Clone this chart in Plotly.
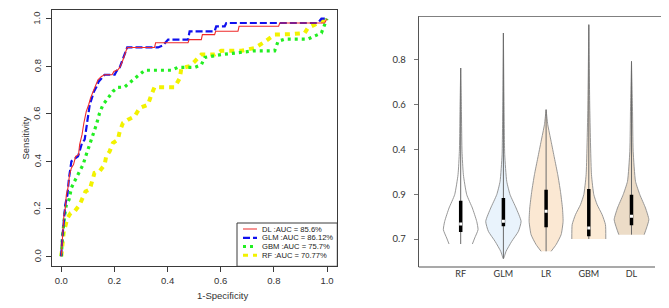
import plotly.graph_objects as go

# ---------------- ROC data (left panel) ----------------
dl_fpr = [0, 0.004, 0.010, 0.015, 0.019, 0.025, 0.031, 0.038, 0.046, 0.054, 0.065, 0.069, 0.078, 0.085, 0.094,
          0.103, 0.110, 0.120, 0.128, 0.138, 0.151, 0.163, 0.191, 0.198, 0.213, 0.220, 0.230, 0.238, 0.248, 0.351,
          0.355, 0.477, 0.481, 0.527, 0.531, 0.577, 0.581, 0.665, 0.669, 0.818, 0.822, 0.991, 1.0]
dl_tpr = [0, 0.063, 0.175, 0.203, 0.259, 0.288, 0.344, 0.372, 0.386, 0.421, 0.428, 0.470, 0.512, 0.561, 0.610,
          0.638, 0.666, 0.694, 0.715, 0.743, 0.757, 0.764, 0.764, 0.778, 0.785, 0.795, 0.820, 0.849, 0.879, 0.879,
          0.899, 0.899, 0.912, 0.912, 0.933, 0.933, 0.947, 0.947, 0.968, 0.968, 0.982, 0.982, 1.0]

glm_fpr = [0, 0, 0.004, 0.010, 0.015, 0.023, 0.029, 0.038, 0.050, 0.063, 0.069, 0.078, 0.088, 0.094, 0.100,
           0.107, 0.115, 0.123, 0.132, 0.141, 0.151, 0.163, 0.201, 0.207, 0.220, 0.228, 0.238, 0.248, 0.364,
           0.383, 0.402, 0.477, 0.483, 0.577, 0.583, 0.615, 0.621, 0.966, 0.979, 1.0]
glm_tpr = [0, 0.014, 0.077, 0.161, 0.217, 0.259, 0.330, 0.400, 0.411, 0.421, 0.442, 0.477, 0.491, 0.540, 0.582,
           0.638, 0.666, 0.694, 0.712, 0.736, 0.748, 0.764, 0.764, 0.778, 0.795, 0.820, 0.849, 0.879, 0.879,
           0.888, 0.912, 0.912, 0.947, 0.947, 0.968, 0.968, 0.982, 0.982, 1.0, 1.0]

gbm_fpr = [0, 0.004, 0.013, 0.019, 0.029, 0.038, 0.050, 0.063, 0.082, 0.094, 0.107, 0.119, 0.132, 0.144, 0.157,
           0.176, 0.194, 0.213, 0.238, 0.263, 0.295, 0.314, 0.414, 0.439, 0.502, 0.527, 0.540, 0.602, 0.728, 0.803,
           0.816, 0.841, 0.928, 0.979, 1.0]
gbm_tpr = [0, 0.077, 0.175, 0.217, 0.238, 0.288, 0.316, 0.344, 0.386, 0.428, 0.470, 0.512, 0.554, 0.603, 0.638,
           0.666, 0.694, 0.711, 0.712, 0.736, 0.764, 0.783, 0.783, 0.795, 0.795, 0.806, 0.837, 0.849, 0.865, 0.865,
           0.905, 0.914, 0.914, 0.940, 1.0]

rf_fpr = [0, 0.003, 0.004, 0.010, 0.015, 0.023, 0.035, 0.050, 0.069, 0.082, 0.091, 0.107, 0.119, 0.125, 0.144,
          0.163, 0.169, 0.182, 0.194, 0.213, 0.220, 0.232, 0.251, 0.276, 0.295, 0.326, 0.339, 0.351, 0.427, 0.446,
          0.452, 0.483, 0.502, 0.527, 0.577, 0.602, 0.678, 0.728, 0.759, 0.778, 0.803, 0.866, 0.916, 0.928, 0.954, 1.0]
rf_tpr = [0, 0.042, 0.077, 0.112, 0.126, 0.161, 0.182, 0.189, 0.217, 0.245, 0.273, 0.281, 0.323, 0.351, 0.358,
          0.386, 0.421, 0.442, 0.477, 0.491, 0.526, 0.561, 0.575, 0.589, 0.624, 0.638, 0.680, 0.712, 0.712, 0.750,
          0.792, 0.800, 0.820, 0.849, 0.849, 0.865, 0.865, 0.877, 0.898, 0.912, 0.933, 0.935, 0.940, 0.961, 0.975, 1.0]

legend_labels = ["DL :AUC = 85.6%", "GLM :AUC = 86.12%", "GBM :AUC = 75.7%", "RF :AUC = 70.77%"]
roc_ticks = [0.0, 0.2, 0.4, 0.6, 0.8, 1.0]
roc_ticktext = ["0.0", "0.2", "0.4", "0.6", "0.8", "1.0"]

# ---------------- Violin data (right panel) ----------------
models = ["RF", "GLM", "LR", "GBM", "DL"]
violin_tickvals = [0, 1, 2, 3, 4]
violin_ticktext = ["0.7", "0.9", "0.4", "0.6", "0.8"]
fills = ["#ffffff", "#e9f3fc", "#fbe8d3", "#fcebd6", "#ecdcc7"]

rf_levels = [3.817, 2.924, 1.957, 1.436, 0.990, 0.692, 0.394, 0.208, 0.022, -0.112]
rf_half = [0, 0.016, 0.031, 0.0625, 0.141, 0.273, 0.375, 0.406, 0.328, 0.273]
glm_levels = [4.598, 2.924, 1.882, 1.287, 0.990, 0.692, 0.394, 0.171, -0.052, -0.275, -0.439]
glm_half = [0, 0.016, 0.031, 0.078, 0.156, 0.297, 0.414, 0.352, 0.195, 0.0625, 0]
lr_levels = [2.887, 2.552, 2.180, 1.808, 1.436, 1.064, 0.692, 0.394, 0.097, -0.126, -0.275]
lr_half = [0, 0.039, 0.117, 0.195, 0.273, 0.336, 0.383, 0.398, 0.352, 0.234, 0.117]
gbm_levels = [4.784, 2.924, 1.436, 0.990, 0.766, 0.543, 0.320, 0.0]
gbm_half = [0, 0.023, 0.0625, 0.117, 0.195, 0.3125, 0.39, 0.398]
dl_levels = [3.966, 2.924, 1.957, 1.287, 0.990, 0.692, 0.432, 0.246, 0.097]
dl_half = [0, 0.023, 0.039, 0.094, 0.195, 0.328, 0.406, 0.352, 0.297]

box_q1 = [0.156, 0.283, 0.260, 0.060, 0.305]
box_median = [0.335, 0.394, 0.618, 0.246, 0.506]
box_q3 = [0.856, 0.915, 1.101, 1.116, 0.990]

violin_levels = [rf_levels, glm_levels, lr_levels, gbm_levels, dl_levels]
violin_half = [rf_half, glm_half, lr_half, gbm_half, dl_half]

# ---------------- Figure ----------------
W, H = 669, 308
fig = go.Figure()

TXT = "#333333"
FONT_L = "Liberation Sans, Arial, sans-serif"
FONT_R = "Lato, Open Sans, sans-serif"

# ROC curves
roc_series = [
    (dl_fpr, dl_tpr, "#ee2a2a", 1.1, "solid"),
    (glm_fpr, glm_tpr, "#1010ee", 2.2, "7px,3px"),
    (gbm_fpr, gbm_tpr, "#22ee22", 3.2, "3px,4px"),
    (rf_fpr, rf_tpr, "#f2f200", 4.0, "5px,5px"),
]
for fx, fy, col, w, dash in reversed(roc_series):
    fig.add_trace(go.Scatter(x=fx, y=fy, mode="lines", xaxis="x", yaxis="y",
                             line=dict(color=col, width=w, dash=dash), showlegend=False,
                             hoverinfo="skip"))

# Violins
for i, m in enumerate(models):
    c = i + 1
    lv = violin_levels[i]
    hw = violin_half[i]
    xs = [c + h for h in reversed(hw)] + [c - h for h in hw]
    ys = list(reversed(lv)) + lv
    fig.add_trace(go.Scatter(x=xs, y=ys, mode="lines", fill="toself", fillcolor=fills[i],
                             line=dict(color="#8c8c8c", width=0.9, shape="spline", smoothing=0.5),
                             xaxis="x2", yaxis="y2", showlegend=False, hoverinfo="skip"))
    fig.add_trace(go.Scatter(x=[c, c], y=[min(lv), max(lv)], mode="lines",
                             line=dict(color="#6a6a6a", width=1), xaxis="x2", yaxis="y2",
                             showlegend=False, hoverinfo="skip"))
    fig.add_trace(go.Scatter(x=[c, c], y=[box_q1[i], box_q3[i]], mode="lines",
                             line=dict(color="#000000", width=3.5), xaxis="x2", yaxis="y2",
                             showlegend=False, hoverinfo="skip"))
    fig.add_trace(go.Scatter(x=[c], y=[box_median[i]], mode="markers",
                             marker=dict(symbol="square", color="#ffffff", size=3, line=dict(width=0)),
                             xaxis="x2", yaxis="y2", showlegend=False, hoverinfo="skip"))

# ---------------- Axes ----------------
Lx0, Lx1 = 44.0, 329.3
Ly0, Ly1 = 1.7, 258.3
Rx0, Rx1 = 410.7, 669.0
Ry0, Ry1 = 8.3, 259.0

px_per_x = 265.7
px_per_y = 237.6
x_lo = (Lx0 - 53.3) / px_per_x
x_hi = (Lx1 - 53.3) / px_per_x
y_lo = (248.3 - Ly1) / px_per_y
y_hi = (248.3 - Ly0) / px_per_y

vx_unit = 42.7
vy_unit = 44.8
vx_lo = 1 - (452.7 - Rx0) / vx_unit
vx_hi = 1 + (Rx1 - 452.7) / vx_unit
vy_lo = (231.0 - Ry1) / vy_unit
vy_hi = (231.0 - Ry0) / vy_unit

fig.update_layout(
    width=W, height=H,
    margin=dict(l=0, r=0, t=0, b=0),
    paper_bgcolor="white", plot_bgcolor="white",
    showlegend=False,
    xaxis=dict(domain=[Lx0 / W, Lx1 / W], range=[x_lo, x_hi], tickvals=roc_ticks, ticktext=roc_ticktext,
               showgrid=False, zeroline=False, showline=True, mirror=True, linecolor="#3a3a3a", linewidth=1,
               ticks="outside", ticklen=5, tickcolor="#3a3a3a", tickwidth=1,
               tickfont=dict(family=FONT_L, size=9.5, color=TXT), ticklabelstandoff=0),
    yaxis=dict(domain=[1 - Ly1 / H, 1 - Ly0 / H], range=[y_lo, y_hi], tickvals=roc_ticks,
               showticklabels=False,
               showgrid=False, zeroline=False, showline=True, mirror=True, linecolor="#3a3a3a", linewidth=1,
               ticks="outside", ticklen=5, tickcolor="#3a3a3a", tickwidth=1),
    xaxis2=dict(domain=[Rx0 / W, Rx1 / W], range=[vx_lo, vx_hi], tickvals=[1, 2, 3, 4, 5], ticktext=models,
                anchor="y2", showgrid=False, zeroline=False, showline=False, ticks="",
                tickfont=dict(family=FONT_R, size=9, color=TXT), ticklabelstandoff=0),
    yaxis2=dict(domain=[1 - Ry1 / H, 1 - Ry0 / H], range=[vy_lo, vy_hi], tickvals=violin_tickvals,
                ticktext=violin_ticktext, anchor="x2", showgrid=False, zeroline=False,
                showline=True, linecolor="#555555", linewidth=1,
                ticks="outside", ticklen=4, tickcolor="#777777", tickwidth=1,
                tickfont=dict(family=FONT_R, size=9.5, color=TXT), ticklabelstandoff=6),
)

# rotated y tick labels for the ROC panel (R style)
for tv, tt in zip(roc_ticks, roc_ticktext):
    fig.add_annotation(x=29 / W, y=tv, xref="paper", yref="y", text=tt, textangle=-90, showarrow=False,
                       xanchor="center", yanchor="middle", font=dict(family=FONT_L, size=9.5, color=TXT))

shapes = []
# right panel frame pieces (paper coords)
shapes.append(dict(type="line", xref="paper", yref="paper", x0=Rx0 / W, x1=647 / W,
                   y0=1 - Ry1 / H, y1=1 - Ry1 / H, line=dict(color="#555555", width=1.2)))
shapes.append(dict(type="line", xref="paper", yref="paper", x0=Rx0 / W, x1=1.0,
                   y0=1 - 8.5 / H, y1=1 - 8.5 / H, line=dict(color="#808080", width=1)))
shapes.append(dict(type="line", xref="paper", yref="paper", x0=668.5 / W, x1=668.5 / W,
                   y0=1 - (Ry1 - 2) / H, y1=1 - 8.5 / H, line=dict(color="#a0a0a0", width=1)))

# legend box on ROC panel
lg_x0 = (229 - 53.3) / px_per_x
lg_ytop = (248.3 - 215) / px_per_y
shapes.append(dict(type="rect", xref="x", yref="y", x0=lg_x0, x1=x_hi, y0=y_lo, y1=lg_ytop,
                   line=dict(color="#3a3a3a", width=1), fillcolor="rgba(255,255,255,0)"))
row_px = [221, 229.8, 238.6, 247.3]
samp_x0 = (235 - 53.3) / px_per_x
samp_x1 = (249 - 53.3) / px_per_x
text_x = (253 - 53.3) / px_per_x
for (fx, fy, col, w, dash), lab, rp in zip(roc_series, legend_labels, row_px):
    yy = (248.3 - rp) / px_per_y
    shapes.append(dict(type="line", xref="x", yref="y", x0=samp_x0, x1=samp_x1, y0=yy, y1=yy,
                       line=dict(color=col, width=min(w, 3.0), dash=dash)))
    fig.add_annotation(x=text_x, y=yy, xref="x", yref="y", text=lab, showarrow=False,
                       xanchor="left", yanchor="middle", borderpad=0,
                       font=dict(family=FONT_L, size=7.6, color="#222222"))
fig.update_layout(shapes=shapes)

# axis titles
fig.add_annotation(x=187 / W, y=1 - 295 / H, xref="paper", yref="paper", text="1-Specificity",
                   showarrow=False, font=dict(family=FONT_L, size=9.5, color=TXT))
fig.add_annotation(x=9 / W, y=1 - 130 / H, xref="paper", yref="paper", text="Sensitivity", textangle=-90,
                   showarrow=False, font=dict(family=FONT_L, size=9.5, color=TXT))

fig.write_html("out.html")
